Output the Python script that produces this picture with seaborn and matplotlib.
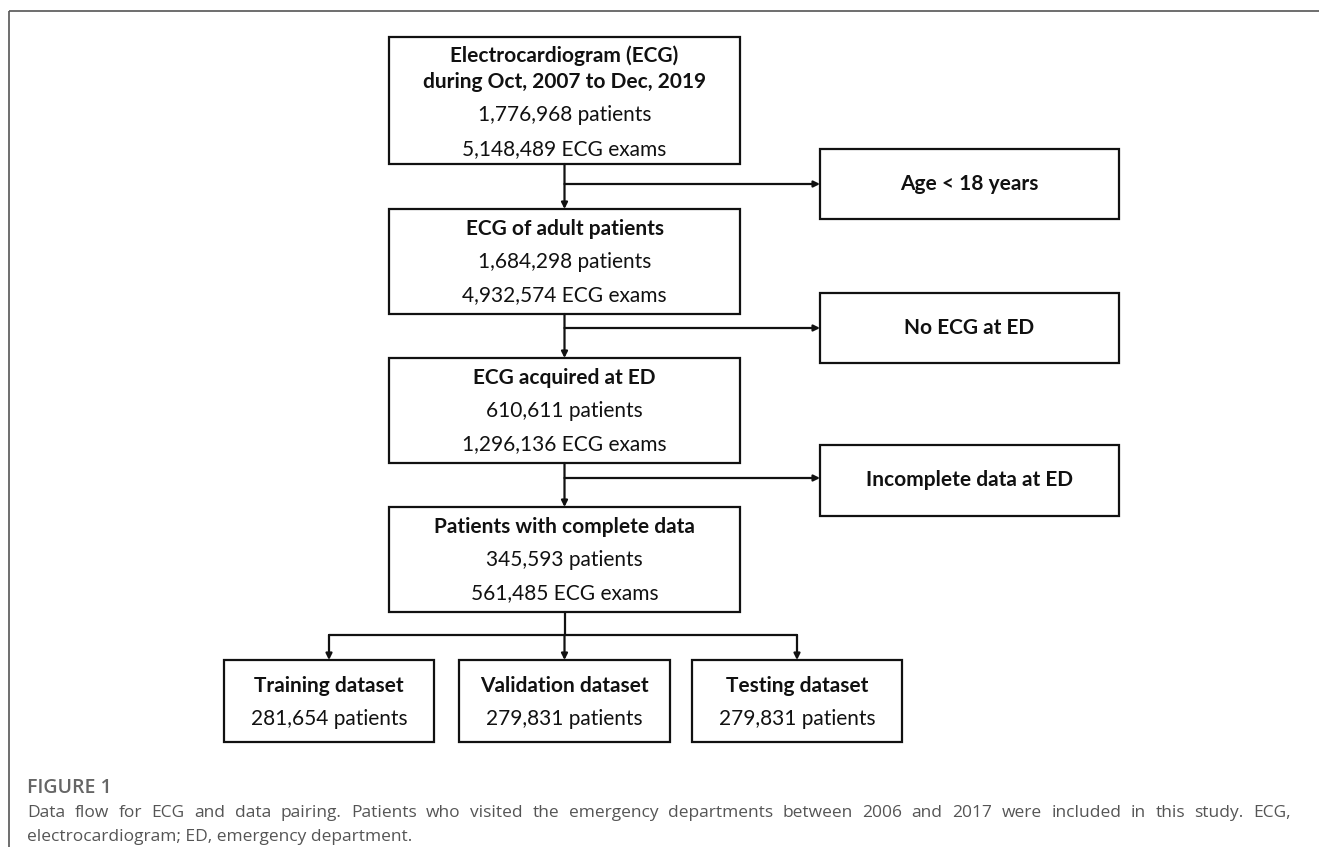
import matplotlib
matplotlib.use("Agg")
import matplotlib.pyplot as plt
from matplotlib.patches import Rectangle
import seaborn as sns

# Style global
sns.set_theme(style="white")
plt.rcParams["font.family"] = ["Lato", "DejaVu Sans"]

# Donnees du diagramme
main_titles = [
    ["Electrocardiogram (ECG)", "during Oct, 2007 to Dec, 2019"],
    ["ECG of adult patients"],
    ["ECG acquired at ED"],
    ["Patients with complete data"],
]
main_patients = [1776968, 1684298, 610611, 345593]
main_exams = [5148489, 4932574, 1296136, 561485]
excluded = ["Age < 18 years", "No ECG at ED", "Incomplete data at ED"]
split_names = ["Training dataset", "Validation dataset", "Testing dataset"]
split_patients = [281654, 279831, 279831]

caption_label = "FIGURE 1"
caption_line1 = ("Data flow for ECG and data pairing. Patients who visited the emergency "
                 "departments between 2006 and 2017 were included in this study. ECG,")
caption_line2 = "electrocardiogram; ED, emergency department."

# Mise en page (pixels)
W, H = 1319, 847
MAIN_X = (389, 740)
MAIN_Y = [(37, 164), (209, 314), (358, 463), (507, 612)]
SIDE_X = (820, 1119)
SIDE_Y = [(149, 219), (293, 363), (445, 516)]
BRANCH_Y = [184, 328, 478]
SPLIT_X = [(224, 434), (459, 670), (692, 902)]
SPLIT_Y = (660, 742)
SPLIT_LINE_Y = 635

TITLE_FS = 15
NUM_FS = 15
LW = 1.6

fig = plt.figure(figsize=(W / 100, H / 100), dpi=100)
ax = fig.add_axes([0, 0, 1, 1])
ax.set_xlim(0, W)
ax.set_ylim(H, 0)
ax.axis("off")


def draw_box(x0, x1, y0, y1):
    ax.add_patch(Rectangle((x0, y0), x1 - x0, y1 - y0, fill=False,
                           edgecolor="#111111", lw=LW, zorder=3))


def arrow(x0, y0, x1, y1):
    ax.annotate("", xy=(x1, y1), xytext=(x0, y0),
                arrowprops=dict(arrowstyle="-|>", color="#111111", lw=LW,
                                mutation_scale=9, shrinkA=0, shrinkB=0))


cx = (MAIN_X[0] + MAIN_X[1]) / 2

# Boites principales
for i, (y0, y1) in enumerate(MAIN_Y):
    draw_box(MAIN_X[0], MAIN_X[1], y0, y1)
    titles = main_titles[i]
    if len(titles) == 2:
        offsets = [19, 45, 78, 112]
    else:
        offsets = [20, 53, 86]
    lines = titles + [f"{main_patients[i]:,} patients", f"{main_exams[i]:,} ECG exams"]
    for j, (txt, off) in enumerate(zip(lines, offsets)):
        bold = j < len(titles)
        ax.text(cx, y0 + off, txt, ha="center", va="center",
                fontsize=TITLE_FS if bold else NUM_FS,
                fontweight="bold" if bold else "normal", color="#111111")

# Fleches verticales entre boites principales
for (ya0, ya1), (yb0, yb1) in zip(MAIN_Y[:-1], MAIN_Y[1:]):
    arrow(cx, ya1, cx, yb0)

# Boites d'exclusion
for label, (y0, y1), by in zip(excluded, SIDE_Y, BRANCH_Y):
    draw_box(SIDE_X[0], SIDE_X[1], y0, y1)
    ax.text((SIDE_X[0] + SIDE_X[1]) / 2, (y0 + y1) / 2, label, ha="center",
            va="center", fontsize=TITLE_FS, fontweight="bold", color="#111111")
    arrow(cx, by, SIDE_X[0], by)

# Separation en jeux de donnees
ax.plot([cx, cx], [MAIN_Y[-1][1], SPLIT_LINE_Y], color="#111111", lw=LW)
centers = [(a + b) / 2 for a, b in SPLIT_X]
ax.plot([centers[0], centers[-1]], [SPLIT_LINE_Y, SPLIT_LINE_Y], color="#111111", lw=LW)
for name, n, (x0, x1), c in zip(split_names, split_patients, SPLIT_X, centers):
    draw_box(x0, x1, SPLIT_Y[0], SPLIT_Y[1])
    arrow(c, SPLIT_LINE_Y, c, SPLIT_Y[0])
    ax.text(c, SPLIT_Y[0] + 26, name, ha="center", va="center",
            fontsize=TITLE_FS, fontweight="bold", color="#111111")
    ax.text(c, SPLIT_Y[0] + 59, f"{n:,} patients", ha="center", va="center",
            fontsize=NUM_FS, color="#111111")

# Cadre de la figure
ax.plot([9, W], [11, 11], color="#555555", lw=1.2, solid_capstyle="butt")
ax.plot([9, 9], [11, H], color="#555555", lw=1.2, solid_capstyle="butt")

# Legende (texte justifie sur la premiere ligne)
CAP_X0, CAP_X1 = 27, 1291
CAP_COLOR = "#555555"
ax.text(CAP_X0, 788, caption_label, ha="left", va="center", fontsize=14,
        fontweight="semibold", color="#666666", family=["Open Sans", "DejaVu Sans"])

words = caption_line1.split()
word_texts = [ax.text(0, 813, w, ha="left", va="center", fontsize=12.5,
                      color=CAP_COLOR, family=["Open Sans", "DejaVu Sans"])
              for w in words]
fig.canvas.draw()
renderer = fig.canvas.get_renderer()
widths = [t.get_window_extent(renderer).width for t in word_texts]
gap = (CAP_X1 - CAP_X0 - sum(widths)) / (len(words) - 1)
x = CAP_X0
for t, w in zip(word_texts, widths):
    t.set_x(x)
    x += w + gap

ax.text(CAP_X0, 837, caption_line2, ha="left", va="center", fontsize=12.5,
        color=CAP_COLOR, family=["Open Sans", "DejaVu Sans"])

fig.savefig("out.png", dpi=100)
plt.close(fig)
